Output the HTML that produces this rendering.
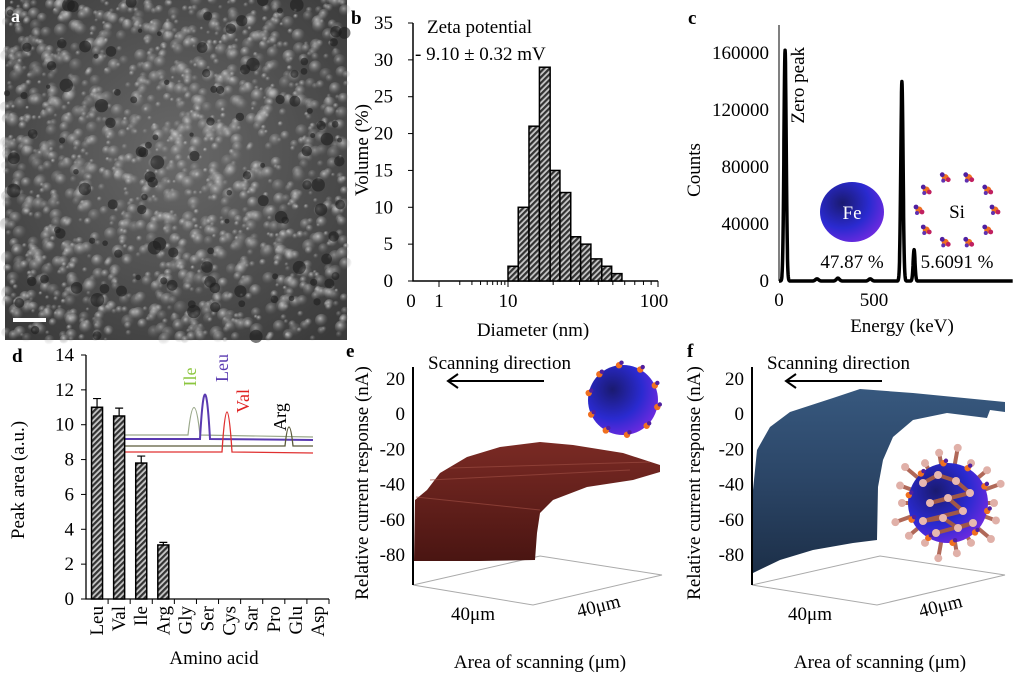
<!DOCTYPE html>
<html><head><meta charset="utf-8"><style>
html,body{margin:0;padding:0;background:#fff;width:1024px;height:674px;overflow:hidden}
svg{display:block;font-family:"Liberation Serif",serif}
</style></head><body>
<svg id="fig" width="1024" height="674" viewBox="0 0 1024 674">
<defs>
<pattern id="hatch" width="4" height="4" patternUnits="userSpaceOnUse" patternTransform="rotate(45)">
<rect width="4" height="4" fill="#c8c8c8"/><rect width="2.2" height="4" fill="#333"/></pattern>
<radialGradient id="sem" cx="50%" cy="45%" r="70%"><stop offset="0" stop-color="#6a6a6a"/><stop offset="1" stop-color="#3a3a3a"/></radialGradient>
<radialGradient id="ball" cx="35%" cy="35%" r="70%"><stop offset="0" stop-color="#1a1a70"/><stop offset="0.6" stop-color="#2a2ad0"/><stop offset="1" stop-color="#6a2adf"/></radialGradient>
<radialGradient id="grain" cx="40%" cy="35%" r="60%"><stop offset="0" stop-color="#d0d0d0"/><stop offset="1" stop-color="#707070" stop-opacity="0"/></radialGradient>
<linearGradient id="brown" x1="0" y1="1" x2="0" y2="0"><stop offset="0" stop-color="#4a1512"/><stop offset="1" stop-color="#7a2a24"/></linearGradient>
<linearGradient id="blue" x1="0" y1="1" x2="0" y2="0"><stop offset="0" stop-color="#1c2f48"/><stop offset="0.5" stop-color="#2b4566"/><stop offset="1" stop-color="#37587e"/></linearGradient>
</defs>

<!-- Panel a: SEM image -->
<g>
<rect x="5" y="0" width="342" height="340" fill="url(#sem)"/>
<g id="semblobs"></g>
<rect x="13" y="318" width="33" height="4" fill="#fff"/>
<text x="11" y="22" font-size="18" font-weight="bold" fill="#fff">a</text>
</g>

<!-- Panel b -->
<g id="pb">
<text x="351" y="24" font-size="19" font-weight="bold">b</text>
<text x="427" y="33" font-size="19">Zeta potential</text>
<text x="415" y="60" font-size="19">- 9.10 ± 0.32 mV</text>
<text transform="translate(368,150) rotate(-90)" text-anchor="middle" font-size="19">Volume (%)</text>
<text x="533" y="336" text-anchor="middle" font-size="19">Diameter (nm)</text>
</g>

<!-- Panel c -->
<g id="pc">
<text x="688" y="24" font-size="19" font-weight="bold">c</text>
<text transform="translate(700,170) rotate(-90)" text-anchor="middle" font-size="19">Counts</text>
<text x="902" y="332" text-anchor="middle" font-size="19">Energy  (keV)</text>
<text transform="translate(804,47) rotate(-90)" text-anchor="end" font-size="19">Zero peak</text>
<ellipse cx="852" cy="212" rx="32" ry="30" fill="url(#ball)"/>
<text x="852" y="219" text-anchor="middle" font-size="19" fill="#fff">Fe</text>
<text x="852" y="268" text-anchor="middle" font-size="19">47.87 %</text>
<g id="siring"></g>
<text x="957" y="218" text-anchor="middle" font-size="19">Si</text>
<text x="957" y="268" text-anchor="middle" font-size="19">5.6091 %</text>
</g>

<!-- Panel d -->
<g id="pd">
<text x="12" y="362" font-size="19" font-weight="bold">d</text>
<text transform="translate(24,480) rotate(-90)" text-anchor="middle" font-size="19">Peak area (a.u.)</text>
<text x="214" y="664" text-anchor="middle" font-size="19">Amino acid</text>
<g>
<path d="M120,435 L188,435 Q194,380 200,435 L313,437" fill="none" stroke="#9aa88a" stroke-width="1.2"/>
<path d="M120,439 L200,439 Q205,350 210,439 L313,440" fill="none" stroke="#5a3ab0" stroke-width="2"/>
<path d="M120,446 L285,446 Q289,408 293,446 L313,446" fill="none" stroke="#5a5a3a" stroke-width="1.3"/>
<path d="M120,452 L222,452 Q227,372 232,452 L313,453" fill="none" stroke="#e03030" stroke-width="1.3"/>
<text transform="translate(196,377) rotate(-90)" text-anchor="middle" font-size="18" fill="#8cc63f">Ile</text>
<text transform="translate(228,368) rotate(-90)" text-anchor="middle" font-size="18" fill="#5a3ab0">Leu</text>
<text transform="translate(249,401) rotate(-90)" text-anchor="middle" font-size="18" fill="#e02020">Val</text>
<text transform="translate(286,417) rotate(-90)" text-anchor="middle" font-size="18">Arg</text>
</g>
</g>

<!-- Panel e -->
<g>
<text x="346" y="357" font-size="19" font-weight="bold">e</text>
<path d="M413,585 L533,605 L662,575 L540,556 Z" fill="none" stroke="#aaa" stroke-width="1"/>
<path d="M414,561 L415,500 L427,490 L440,473 L467,457 L500,447 L540,442 L573,445 L623,453 L660,465 L660,472 L633,480 L587,487 L553,500 L540,513 L537,533 L535,560 L480,561 Z" fill="url(#brown)"/>
<g stroke="#9a4a40" stroke-width="1" opacity="0.7"><path d="M416,497 L540,510"/><path d="M430,480 L630,470"/><path d="M450,468 L650,462"/></g>
<line x1="413" y1="367" x2="413" y2="585" stroke="#000" stroke-width="2"/>
<g id="eticks"></g>
<text transform="translate(368,483) rotate(-90)" text-anchor="middle" font-size="19">Relative current response (nA)</text>
<text x="428" y="369" font-size="19">Scanning direction</text>
<path d="M544,381 L449,381 M458,374 L448,381 L458,388" fill="none" stroke="#000" stroke-width="2"/>
<text x="473" y="620" text-anchor="middle" font-size="19">40μm</text>
<text transform="translate(600,612) rotate(-14)" text-anchor="middle" font-size="19">40μm</text>
<text x="540" y="668" text-anchor="middle" font-size="19">Area of scanning (μm)</text>
<g id="sphereE"></g>
</g>

<!-- Panel f -->
<g>
<text x="687" y="357" font-size="19" font-weight="bold">f</text>
<path d="M752,585 L877,605 L1005,575 L880,556 Z" fill="none" stroke="#aaa" stroke-width="1"/>
<path d="M753,573 L753,490 L757,450 L770,427 L790,412 L833,398 L860,389 L913,393 L1005,402 L1005,412 L990,410 L987,418 L947,413 L913,420 L893,437 L883,460 L878,487 L877,540 L853,543 L813,550 L780,560 Z" fill="url(#blue)"/>
<line x1="752" y1="367" x2="752" y2="585" stroke="#000" stroke-width="2"/>
<g id="fticks"></g>
<text transform="translate(700,483) rotate(-90)" text-anchor="middle" font-size="19">Relative current response (nA)</text>
<text x="767" y="369" font-size="19">Scanning direction</text>
<path d="M882,381 L787,381 M796,374 L786,381 L796,388" fill="none" stroke="#000" stroke-width="2"/>
<text x="810" y="620" text-anchor="middle" font-size="19">40μm</text>
<text transform="translate(942,612) rotate(-14)" text-anchor="middle" font-size="19">40μm</text>
<text x="880" y="668" text-anchor="middle" font-size="19">Area of scanning (μm)</text>
<g id="sphereF"></g>
</g>
</svg>
<script>
// ---- Panel b data ----
const binEdges = [10, 11.7, 13.8, 16.2, 19.1, 22.2, 26.2, 30.5, 35.7, 42.2, 49.1, 57.5];
const binVolumes = [2, 10, 21, 29, 15, 12, 6, 5, 3, 2, 1];
const bTicks = [0, 5, 10, 15, 20, 25, 30, 35];
// ---- Panel c data ----
const peakEnergies = [32, 200, 310, 480, 647, 711];
const peakCounts = [162000, 1500, 2000, 1500, 140000, 22000];
const peakWidths = [6, 8, 8, 8, 6, 5];
const cTicks = [0, 40000, 80000, 120000, 160000];
const cXTicks = [0, 500];
// ---- Panel d data ----
const aminoAcids = ["Leu","Val","Ile","Arg","Gly","Ser","Cys","Sar","Pro","Glu","Asp"];
const peakAreas = [11, 10.5, 7.8, 3.1, 0, 0, 0, 0, 0, 0, 0];
const peakErrors = [0.5, 0.45, 0.4, 0.15, 0, 0, 0, 0, 0, 0, 0];
const dTicks = [0, 2, 4, 6, 8, 10, 12, 14];
// ---- Panel e/f ticks ----
const efTicks = [20, 0, -20, -40, -60, -80];

const NS = "http://www.w3.org/2000/svg";
function mk(tag, attrs, parent) {
  const e = document.createElementNS(NS, tag);
  for (const k in attrs) e.setAttribute(k, attrs[k]);
  parent.appendChild(e); return e;
}
function txt(x, y, s, anchor, size, parent) {
  const t = mk("text", {x: x, y: y, "text-anchor": anchor, "font-size": size}, parent);
  t.textContent = s; return t;
}

// SEM texture (deterministic)
(function(){
  const g = document.getElementById("semblobs");
  let s = 7;
  function r(){ s = (s*9301+49297)%233280; return s/233280; }
  for (let i = 0; i < 1600; i++) {
    const x = 5 + r()*342, y = r()*340, rad = 2 + r()*5;
    const c = mk("circle", {cx: x, cy: y, r: rad, fill: "url(#grain)", opacity: 0.35 + r()*0.5}, g);
    
    
  }
  for (let i = 0; i < 120; i++) {
    const x = 5 + r()*340, y = r()*338, rad = 2 + r()*5;
    const c = mk("circle", {cx: x, cy: y, r: rad, fill: "#1e1e1e", opacity: 0.6}, g);
    
    
  }
})();

// Panel b
(function(){
  const g = document.getElementById("pb");
  const x0 = 413, y0 = 281, yTop = 23;
  const yS = v => y0 - v * (y0 - yTop) / 35;
  const xS = d => d <= 10 ? 439 + 69 * Math.log10(d) : 508 + 150 * Math.log10(d / 10);
  const ax = mk("path", {d: "M" + x0 + "," + yTop + " L" + x0 + "," + y0 + " L658," + y0, fill: "none", stroke: "#000", "stroke-width": 1.5}, g);
  
  
  bTicks.forEach(v => {
    mk("line", {x1: x0 - 5, x2: x0, y1: yS(v), y2: yS(v), stroke: "#000"}, g);
    const t = txt(393, yS(v) + 6, String(v), "end", 19, g);
    
    
  });
  [1,2,3,4,5,6,7,8,9,10,20,30,40,50,60,70,80,90,100].forEach(d => {
    const big = (d === 1 || d === 10 || d === 100);
    mk("line", {x1: xS(d), x2: xS(d), y1: y0, y2: y0 + (big ? 6 : 4), stroke: "#000"}, g);
  });
  [["0", 411], ["1", 439], ["10", 508], ["100", 654]].forEach(p => {
    const t = txt(p[1], 307, p[0], "middle", 19, g);
    
    
  });
  binVolumes.forEach((v, i) => {
    const xa = xS(binEdges[i]), xb = xS(binEdges[i + 1]);
    const b = mk("rect", {x: xa, y: yS(v), width: xb - xa, height: y0 - yS(v), fill: "url(#hatch)", stroke: "#000", "stroke-width": 1.5}, g);
    
    
  });
})();

// Panel c
(function(){
  const g = document.getElementById("pc");
  const x0 = 779, y0 = 281;
  const xS = e => x0 + e * 95 / 500;
  const yS = c => y0 - c * 57 / 40000;
  const ax = mk("line", {x1: x0, x2: x0, y1: 25, y2: y0, stroke: "#000", "stroke-width": 1}, g);
  
  
  cTicks.forEach(v => {
    const t = txt(769, yS(v) + 6, String(v), "end", 19, g);
    
    
  });
  cXTicks.forEach(v => {
    const t = txt(xS(v), 306, String(v), "middle", 19, g);
    
    
  });
  let d = "";
  for (let e = 0; e <= 1230; e += 1) {
    let c = 0;
    peakEnergies.forEach((pe, i) => { c += peakCounts[i] * Math.exp(-Math.pow(e - pe, 2) / (2 * peakWidths[i] * peakWidths[i])); });
    d += (e === 0 ? "M" : "L") + xS(e).toFixed(1) + "," + yS(c).toFixed(1);
  }
  const sp = mk("path", {d: d, fill: "none", stroke: "#000", "stroke-width": 3.5, "stroke-linejoin": "round"}, g);
  
  
  const ring = document.getElementById("siring");
  for (let i = 0; i < 10; i++) {
    const a = i * Math.PI / 5, cx = 957 + 38 * Math.cos(a), cy = 210 + 34 * Math.sin(a);
    const m = mk("g", {}, ring);
    
    
    mk("circle", {cx: cx, cy: cy, r: 3.5, fill: "#f07020"}, m);
    mk("circle", {cx: cx - 3, cy: cy - 3, r: 2.4, fill: "#5020a0"}, m);
    mk("circle", {cx: cx + 3, cy: cy + 2, r: 2.4, fill: "#c02060"}, m);
    mk("circle", {cx: cx - 2, cy: cy + 3, r: 2, fill: "#6030b0"}, m);
  }
})();

// Panel d
(function(){
  const g = document.getElementById("pd");
  const x0 = 86, y0 = 599, xEnd = 329;
  const yS = v => y0 - v * (y0 - 355) / 14;
  const step = (xEnd - x0) / aminoAcids.length;
  const ax = mk("path", {d: "M" + x0 + ",355 L" + x0 + "," + y0 + " L" + xEnd + "," + y0, fill: "none", stroke: "#000", "stroke-width": 1.3}, g);
  
  
  dTicks.forEach(v => {
    mk("line", {x1: x0 - 5, x2: x0, y1: yS(v), y2: yS(v), stroke: "#000"}, g);
    const t = txt(74, yS(v) + 6, String(v), "end", 19, g);
    
    
  });
  aminoAcids.forEach((a, i) => {
    const cx = x0 + step * (i + 0.5);
    mk("line", {x1: x0 + step * (i + 1), x2: x0 + step * (i + 1), y1: y0, y2: y0 + 5, stroke: "#000"}, g);
    const t = txt(0, 0, a, "end", 19, g);
    t.setAttribute("transform", "translate(" + (cx + 6) + ",606) rotate(-90)");
    
    
    if (peakAreas[i] > 0) {
      const b = mk("rect", {x: cx - 5.5, y: yS(peakAreas[i]), width: 11, height: y0 - yS(peakAreas[i]), fill: "url(#hatch)", stroke: "#000", "stroke-width": 1.5}, g);
      
      
      const yt = yS(peakAreas[i] + peakErrors[i]);
      const e = mk("path", {d: "M" + cx + "," + yS(peakAreas[i]) + " L" + cx + "," + yt + " M" + (cx - 4) + "," + yt + " L" + (cx + 4) + "," + yt, stroke: "#000", "stroke-width": 1.2, fill: "none"}, g);
      
      
    }
  });
})();

// Panels e/f ticks
function ticks(id, ax) {
  const g = document.getElementById(id);
  const yS = v => 414 - v * 35.25 / 20;
  efTicks.forEach(v => {
    const t = txt(ax - 8, yS(v) + 6, String(v), "end", 19, g);
    
    
  });
}
ticks("eticks", 413);
ticks("fticks", 752);

// Spheres
function sphere(id, cx, cy, r, coated) {
  const g = document.getElementById(id);
  if (coated) {
    for (let i = 0; i < 18; i++) {
      const a = i * 2 * Math.PI / 18, rr = r + 6 + (i % 3) * 5;
      mk("line", {x1: cx + (r - 8) * Math.cos(a), y1: cy + (r - 8) * Math.sin(a), x2: cx + rr * Math.cos(a), y2: cy + rr * Math.sin(a), stroke: "#b06858", "stroke-width": 4}, g);
      mk("circle", {cx: cx + rr * Math.cos(a), cy: cy + rr * Math.sin(a), r: 4, fill: "#e0b0a8"}, g);
    }
  }
  const c = mk("circle", {cx: cx, cy: cy, r: r, fill: "url(#ball)"}, g);
  
  
  for (let i = 0; i < 10; i++) {
    const a = i * Math.PI / 5 + 0.2, x = cx + r * Math.cos(a), y = cy + r * Math.sin(a);
    mk("circle", {cx: x, cy: y, r: 3.2, fill: "#f07020"}, g);
    mk("circle", {cx: x + 2.5, cy: y - 2.5, r: 2.2, fill: "#5020a0"}, g);
  }
  if (coated) {
    const pts = [[-25,-20],[-10,-28],[8,-22],[22,-10],[-18,0],[0,-5],[15,8],[-25,18],[-5,15],[10,25],[25,20],[-12,30]];
    for (let i = 0; i < pts.length - 1; i++) {
      mk("line", {x1: cx + pts[i][0], y1: cy + pts[i][1], x2: cx + pts[i+1][0], y2: cy + pts[i+1][1], stroke: "#a05848", "stroke-width": 4}, g);
    }
    pts.forEach(p => mk("circle", {cx: cx + p[0], cy: cy + p[1], r: 4, fill: "#e8b8b0"}, g));
  }
}
sphere("sphereE", 623, 400, 35, false);
sphere("sphereF", 948, 503, 40, true);
</script>
</body></html>
